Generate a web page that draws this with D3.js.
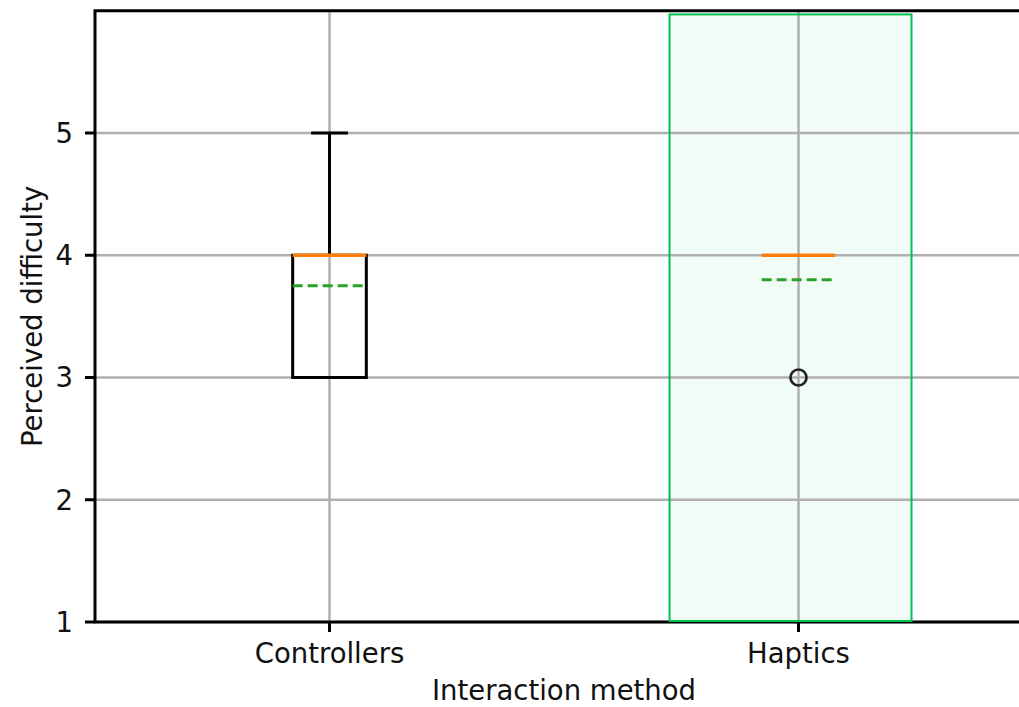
<!DOCTYPE html>
<html>
<head>
<meta charset="utf-8">
<script src="https://cdn.jsdelivr.net/npm/d3@7"></script>
<style>
  html, body { margin: 0; padding: 0; background: #fff; }
  svg { display: block; font-family: "DejaVu Sans", sans-serif; }
</style>
</head>
<body>
<svg id="chart" width="1019" height="707"></svg>
<script>
// Box plot summaries per interaction method
const categories  = ["Controllers", "Haptics"];
const positions   = [1, 2];
const q1          = [3, 4];
const medians     = [4, 4];
const q3          = [4, 4];
const whiskerLow  = [3, 4];
const whiskerHigh = [5, 4];
const means       = [3.75, 3.8];
const fliers      = [[], [3]];

// Highlighted region around the Haptics group (x from/to, y from/to in data units)
const spanX = [1.725, 2.241];
const spanY = [1, 5.97];

const yTicks = [1, 2, 3, 4, 5];
const xLabel = "Interaction method";
const yLabel = "Perceived difficulty";

const svg = d3.select("#chart");
const plot = { left: 95, right: 1033, top: 10.75, bottom: 622 };

const x = d3.scaleLinear().domain([0.5, 2.5]).range([plot.left, plot.right]);
const y = d3.scaleLinear().domain([1, 6]).range([plot.bottom, plot.top]);

const boxW = 0.157;
const fontSize = 27.5;

// highlighted span fill
svg.append("rect")
  .attr("x", x(spanX[0])).attr("y", y(spanY[1]))
  .attr("width", x(spanX[1]) - x(spanX[0]))
  .attr("height", y(spanY[0]) - y(spanY[1]))
  .attr("fill", "rgba(0, 200, 80, 0.05)");

// grid
const grid = svg.append("g").attr("stroke", "#b0b0b0").attr("stroke-width", 2.5);
grid.selectAll("line.h").data(yTicks).join("line")
  .attr("x1", plot.left).attr("x2", plot.right)
  .attr("y1", d => y(d)).attr("y2", d => y(d));
grid.selectAll("line.v").data(positions).join("line")
  .attr("x1", d => x(d)).attr("x2", d => x(d))
  .attr("y1", plot.top).attr("y2", plot.bottom);

// boxes
const boxes = svg.append("g");
positions.forEach((p, i) => {
  const g = boxes.append("g");
  const bx0 = x(p - boxW / 2), bx1 = x(p + boxW / 2);
  const cx0 = x(p - boxW / 4), cx1 = x(p + boxW / 4);
  const stroke = { stroke: "#000", "stroke-width": 3, fill: "none" };
  const line = (x1, y1, x2, y2, style) => {
    const l = g.append("line").attr("x1", x1).attr("y1", y1).attr("x2", x2).attr("y2", y2);
    Object.entries(style).forEach(([k, v]) => l.attr(k, v));
    return l;
  };
  const collapsed = q1[i] === q3[i];
  // box
  if (!collapsed) {
    g.append("rect")
      .attr("x", bx0).attr("y", y(q3[i]))
      .attr("width", bx1 - bx0).attr("height", y(q1[i]) - y(q3[i]))
      .attr("fill", "none").attr("stroke", "#000").attr("stroke-width", 3);
  }
  // whiskers + caps
  if (whiskerHigh[i] > q3[i]) {
    line(x(p), y(q3[i]), x(p), y(whiskerHigh[i]), stroke);
    line(cx0, y(whiskerHigh[i]), cx1, y(whiskerHigh[i]), stroke);
  }
  if (whiskerLow[i] < q1[i]) {
    line(x(p), y(q1[i]), x(p), y(whiskerLow[i]), stroke);
    line(cx0, y(whiskerLow[i]), cx1, y(whiskerLow[i]), stroke);
  }
  // mean (dashed green)
  line(bx0, y(means[i]), bx1, y(means[i]),
       { stroke: "#2ca02c", "stroke-width": 3, "stroke-dasharray": "10,5", fill: "none" });
  // median (orange)
  line(bx0, y(medians[i]), bx1, y(medians[i]),
       { stroke: "#ff7f0e", "stroke-width": 3.6, fill: "none" });
  // outliers
  g.selectAll("circle").data(fliers[i]).join("circle")
    .attr("cx", x(p)).attr("cy", d => y(d)).attr("r", 8)
    .attr("fill", "none").attr("stroke", "#222").attr("stroke-width", 2.7);
});

// spines
const spines = svg.append("g").attr("stroke", "#000").attr("stroke-width", 3).attr("fill", "none");
spines.append("rect")
  .attr("x", plot.left).attr("y", plot.top)
  .attr("width", plot.right - plot.left).attr("height", plot.bottom - plot.top);

// highlighted span outline
svg.append("rect")
  .attr("x", x(spanX[0])).attr("y", y(spanY[1]))
  .attr("width", x(spanX[1]) - x(spanX[0]))
  .attr("height", y(spanY[0]) - y(spanY[1]) - 1)
  .attr("fill", "none").attr("stroke", "#00c050").attr("stroke-width", 2);

// y axis ticks and labels
const yAxis = svg.append("g");
yAxis.selectAll("line").data(yTicks).join("line")
  .attr("x1", plot.left - 10).attr("x2", plot.left)
  .attr("y1", d => y(d)).attr("y2", d => y(d))
  .attr("stroke", "#000").attr("stroke-width", 3);
yAxis.selectAll("text").data(yTicks).join("text")
  .attr("x", plot.left - 22).attr("y", d => y(d))
  .attr("dy", "0.36em")
  .attr("text-anchor", "end")
  .attr("font-size", fontSize).attr("fill", "#111")
  .text(d => d);

// x axis ticks and labels
const xAxis = svg.append("g");
xAxis.selectAll("line").data(positions).join("line")
  .attr("x1", d => x(d)).attr("x2", d => x(d))
  .attr("y1", plot.bottom).attr("y2", plot.bottom + 10)
  .attr("stroke", "#000").attr("stroke-width", 3);
xAxis.selectAll("text").data(categories).join("text")
  .attr("x", (d, i) => x(positions[i])).attr("y", 663)
  .attr("text-anchor", "middle")
  .attr("font-size", fontSize).attr("fill", "#111")
  .text(d => d);

// axis titles
svg.append("text")
  .attr("x", (plot.left + plot.right) / 2).attr("y", 700)
  .attr("text-anchor", "middle")
  .attr("font-size", fontSize).attr("fill", "#111")
  .text(xLabel);
svg.append("text")
  .attr("transform", `translate(42, ${(plot.top + plot.bottom) / 2}) rotate(-90)`)
  .attr("text-anchor", "middle")
  .attr("font-size", fontSize).attr("fill", "#111")
  .text(yLabel);
</script>
</body>
</html>
